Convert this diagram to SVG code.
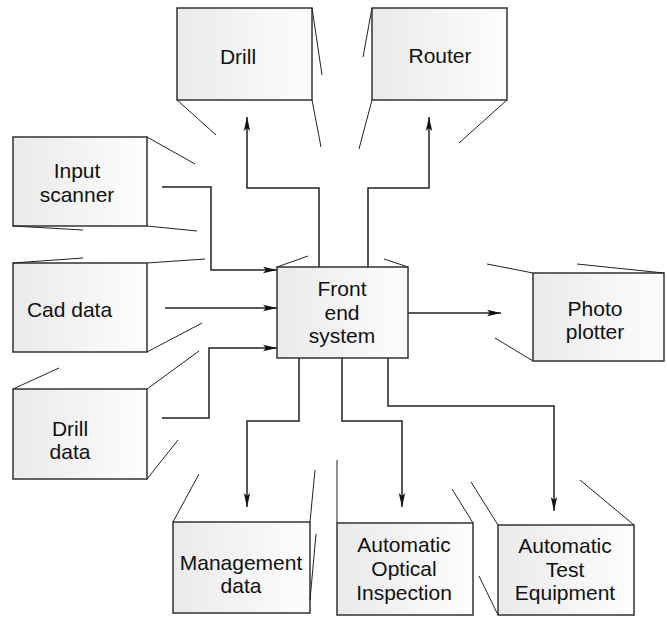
<svg xmlns="http://www.w3.org/2000/svg" width="667" height="617" viewBox="0 0 667 617">
<defs>
<linearGradient id="g" x1="0" y1="0" x2="1" y2="0">
<stop offset="0" stop-color="#eaeaea"/>
<stop offset="1" stop-color="#fdfdfd"/>
</linearGradient>
<marker id="ar" markerUnits="userSpaceOnUse" markerWidth="16" markerHeight="10" refX="14" refY="4" orient="auto">
<path d="M0,0.8 L14,4 L0,7.2 L3,4 Z" fill="#111"/>
</marker>
<style>
.box{fill:url(#g);stroke:#333;stroke-width:1.5}
.p{stroke:#222;stroke-width:1;fill:none}
.c{stroke:#222;stroke-width:1.5;fill:none}
.a{marker-end:url(#ar)}
text{font-family:"Liberation Sans",Arial,sans-serif;font-size:21px;fill:#111;text-anchor:middle}
</style>
</defs>
<rect width="667" height="617" fill="#fff"/>
<g id="connectors">
<path class="c a" d="M319,267 V188 H247 V117"/>
<path class="c a" d="M368,267 V188 H429 V117"/>
<path class="c a" d="M162,187 H211 V270 H277"/>
<path class="c a" d="M165,308 H277"/>
<path class="c a" d="M162,418 H209 V348 H277"/>
<path class="c a" d="M408,313 H501"/>
<path class="c a" d="M299,358 V421 H247 V507"/>
<path class="c a" d="M342,358 V421 H402 V507"/>
<path class="c a" d="M388,358 V406 H554 V511"/>
</g>
<g id="drill">
<rect class="box" x="177" y="8" width="135" height="92"/>
<path class="p" d="M312,8 L322,75 M312,100 L321,147 M177,100 L216,135"/>
<text x="238" y="64">Drill</text>
</g>
<g id="router">
<rect class="box" x="372" y="8" width="135" height="92"/>
<path class="p" d="M372,8 L363,57 M372,100 L359,149 M507,100 L459,143"/>
<text x="440" y="63">Router</text>
</g>
<g id="input-scanner">
<rect class="box" x="13" y="137" width="134" height="89"/>
<path class="p" d="M147,137 L195,164 M147,226 L197,231 M13,226 L83,230"/>
<text x="77" y="178">Input</text>
<text x="77" y="202">scanner</text>
</g>
<g id="cad-data">
<rect class="box" x="13" y="263" width="134" height="89"/>
<path class="p" d="M13,263 L83,258 M147,263 L205,259 M147,352 L202,323"/>
<text x="69.5" y="317">Cad data</text>
</g>
<g id="drill-data">
<rect class="box" x="13" y="389" width="134" height="90"/>
<path class="p" d="M13,389 L59,368 M147,389 L199,351 M147,479 L178,440"/>
<text x="70" y="436">Drill</text>
<text x="70" y="459">data</text>
</g>
<g id="front-end">
<rect class="box" x="277" y="267" width="131" height="91"/>
<path class="p" d="M277,267 L308,256 M408,267 L384,259"/>
<text x="342" y="296">Front</text>
<text x="342" y="320">end</text>
<text x="342" y="343">system</text>
</g>
<g id="photo-plotter">
<rect class="box" x="533" y="273" width="131" height="88"/>
<path class="p" d="M533,273 L487,264 M664,273 L577,264 M533,361 L495,338"/>
<text x="595" y="316">Photo</text>
<text x="595" y="339">plotter</text>
</g>
<g id="management-data">
<rect class="box" x="173" y="522" width="137" height="91"/>
<path class="p" d="M173,522 L199,474 M310,522 L315,470 M310,600 L316,534"/>
<text x="241" y="570">Management</text>
<text x="241" y="593">data</text>
</g>
<g id="aoi">
<rect class="box" x="337" y="523" width="136" height="92"/>
<path class="p" d="M337,523 L337,460 M473,523 L452,489"/>
<text x="404" y="552">Automatic</text>
<text x="404" y="576">Optical</text>
<text x="404" y="600">Inspection</text>
</g>
<g id="ate">
<rect class="box" x="498" y="525" width="136" height="90"/>
<path class="p" d="M498,525 L471,482 M634,525 L580,480 M498,615 L479,576"/>
<text x="565" y="553">Automatic</text>
<text x="565" y="577">Test</text>
<text x="565" y="600">Equipment</text>
</g>
</svg>
